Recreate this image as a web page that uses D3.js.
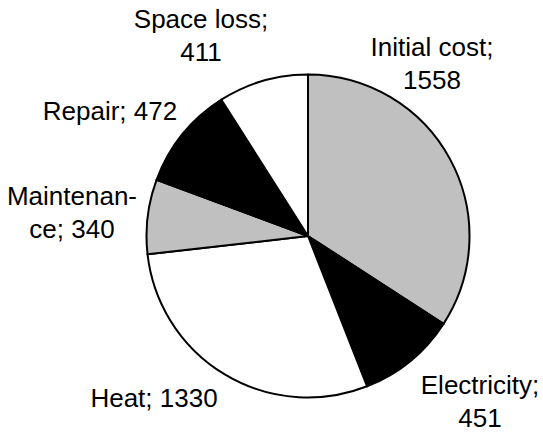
<!DOCTYPE html>
<html>
<head>
<meta charset="utf-8">
<script src="https://cdn.jsdelivr.net/npm/d3@7"></script>
<style>
  html, body { margin: 0; padding: 0; background: #fff; }
  svg { display: block; }
  text { font-family: Arial, "Liberation Sans", sans-serif; fill: #000; }
</style>
</head>
<body>
<svg id="chart" width="543" height="432"></svg>
<script>
// Annual cost breakdown
const categories = ["Initial cost", "Electricity", "Heat", "Maintenance", "Repair", "Space loss"];
const values = [1558, 451, 1330, 340, 472, 411];
const fills = ["#c0c0c0", "#000000", "#ffffff", "#c0c0c0", "#000000", "#ffffff"];

// Label text lines; "{v}" is replaced by the slice value
const labelLines = [
  ["Initial cost;", "{v}"],
  ["Electricity;", "{v}"],
  ["Heat; {v}"],
  ["Maintenan-", "ce; {v}"],
  ["Repair; {v}"],
  ["Space loss;", "{v}"]
];
// Label anchor (centre x, first baseline y)
const labelAnchor = [
  [432, 56],
  [480, 394],
  [154, 407],
  [72, 205],
  [110, 120],
  [201, 28]
];

const width = 543, height = 432;
const cx = 308, cy = 236, radius = 161.5;
const fontSize = 26, lineGap = 32.5;

const svg = d3.select("#chart");

const pie = d3.pie().sort(null).value(d => d.value);
const arc = d3.arc().innerRadius(0).outerRadius(radius);

const data = categories.map((c, i) => ({ name: c, value: values[i], fill: fills[i] }));

const g = svg.append("g").attr("transform", `translate(${cx},${cy})`);

g.selectAll("path")
  .data(pie(data))
  .join("path")
  .attr("d", arc)
  .attr("fill", d => d.data.fill)
  .attr("stroke", "#000")
  .attr("stroke-width", 2)
  .attr("stroke-linejoin", "round");

const labels = svg.append("g");
data.forEach((d, i) => {
  const t = labels.append("text")
    .attr("text-anchor", "middle")
    .attr("font-size", fontSize)
    .attr("x", labelAnchor[i][0])
    .attr("y", labelAnchor[i][1]);
  labelLines[i].forEach((line, j) => {
    t.append("tspan")
      .attr("x", labelAnchor[i][0])
      .attr("dy", j === 0 ? 0 : lineGap)
      .text(line.replace("{v}", d.value));
  });
});
</script>
</body>
</html>
